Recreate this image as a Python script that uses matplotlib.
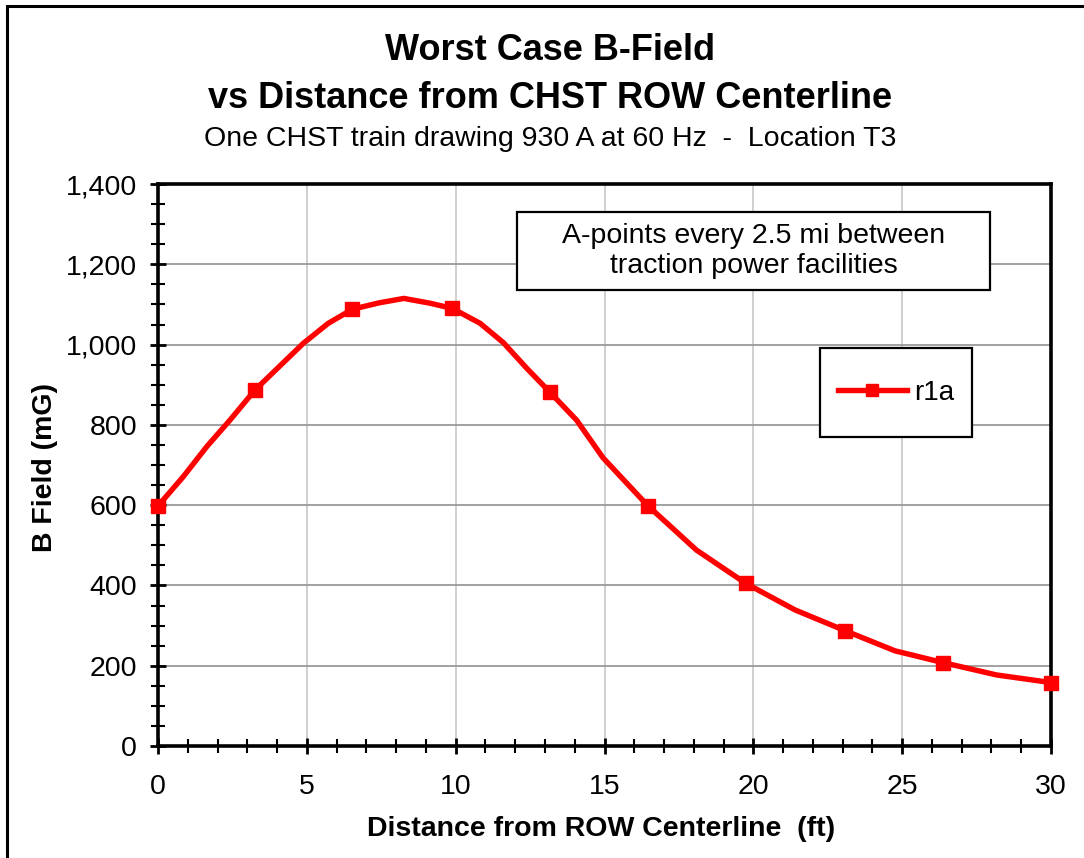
import matplotlib
matplotlib.use("Agg")
import matplotlib.pyplot as plt
from matplotlib.patches import Rectangle
from matplotlib.ticker import MultipleLocator, FuncFormatter

plt.rcParams['font.family'] = ['Liberation Sans', 'DejaVu Sans']

# Data
distance_ft = [0.0, 0.85, 1.64, 2.42, 3.26, 4.07, 4.88, 5.72, 6.53, 7.43, 8.26, 9.14,
               9.89, 10.82, 11.6, 12.4, 13.17, 14.06, 14.95, 16.45, 18.09, 19.75,
               21.4, 23.09, 24.76, 26.36, 28.17, 30.0]
b_field_mG = [598, 671, 746, 812, 887, 945, 1003, 1053, 1088, 1104, 1115, 1103,
              1090, 1053, 1005, 940, 881, 812, 718, 599, 488, 405,
              339, 287, 237, 208, 177, 158]
marker_idx = [0, 4, 8, 12, 16, 19, 21, 23, 25, 27]
series_name = "r1a"

title_lines = ["Worst Case B-Field", "vs Distance from CHST ROW Centerline"]
subtitle = "One CHST train drawing 930 A at 60 Hz  -  Location T3"
x_label = "Distance from ROW Centerline  (ft)"
y_label = "B Field (mG)"
note = "A-points every 2.5 mi between\ntraction power facilities"

W, H = 1084, 858
fig = plt.figure(figsize=(W / 100, H / 100), dpi=100)

# figure frame (left and top visible)
fig.patches.append(Rectangle((7 / W, -0.1), 1.2, 1 - 6 / H + 0.1, transform=fig.transFigure,
                             fill=False, edgecolor='black', linewidth=2.2, zorder=0))

ax = fig.add_axes([158 / W, 1 - 746 / H, (1051 - 158) / W, (746 - 184) / H])
ax.set_xlim(0, 30)
ax.set_ylim(0, 1400)

ax.xaxis.set_major_locator(MultipleLocator(5))
ax.xaxis.set_minor_locator(MultipleLocator(1))
ax.yaxis.set_major_locator(MultipleLocator(200))
ax.yaxis.set_minor_locator(MultipleLocator(50))
ax.yaxis.set_major_formatter(FuncFormatter(lambda v, p: f"{int(v):,}"))

ax.grid(True, which='major', axis='y', color='#9a9a9a', linewidth=1.3)
ax.grid(True, which='major', axis='x', color='#cccccc', linewidth=1.3)
ax.set_axisbelow(True)

for s in ax.spines.values():
    s.set_linewidth(2.6)
    s.set_color('black')

ax.tick_params(which='major', direction='inout', length=12, width=2.0, labelsize=20.5, pad=9)
ax.tick_params(which='minor', direction='inout', length=10, width=1.5)
ax.tick_params(axis='x', which='major', pad=14)

ax.plot(distance_ft, b_field_mG, color='#ff0000', linewidth=3.9, marker='s',
        markersize=10, markevery=marker_idx, label=series_name, clip_on=False, zorder=5)

ax.set_xlabel(x_label, fontsize=20.5, fontweight='bold')
ax.set_ylabel(y_label, fontsize=20.5, fontweight='bold')
ax.xaxis.set_label_coords((601.5 - 158) / (1051 - 158), (746 - 829) / (746 - 184))
ax.yaxis.set_label_coords((45 - 158) / (1051 - 158), (746 - 468) / (746 - 184))
ax.xaxis.label.set_va('center')
ax.yaxis.label.set_va('center')

# titles
cx = 0.5 + 8 / W
fig.text(cx, 1 - 50 / H, title_lines[0], ha='center', va='center', fontsize=26, fontweight='bold')
fig.text(cx, 1 - 99 / H, title_lines[1], ha='center', va='center', fontsize=26, fontweight='bold')
fig.text(cx, 1 - 139 / H, subtitle, ha='center', va='center', fontsize=20.5)

# annotation box
def ax_frac(px, py):
    return ((px - 158) / (1051 - 158), (746 - py) / (746 - 184))

x0, y0 = ax_frac(517, 290)
x1, y1 = ax_frac(990, 212)
ax.add_patch(Rectangle((x0, y0), x1 - x0, y1 - y0, transform=ax.transAxes,
                       facecolor='white', edgecolor='black', linewidth=1.6, zorder=6))
ax.text((x0 + x1) / 2, (y0 + y1) / 2, note, transform=ax.transAxes, ha='center', va='center',
        fontsize=20.5, linespacing=1.2, zorder=7)

# legend box
lx0, ly0 = ax_frac(820, 437)
lx1, ly1 = ax_frac(972, 348)
ax.add_patch(Rectangle((lx0, ly0), lx1 - lx0, ly1 - ly0, transform=ax.transAxes,
                       facecolor='white', edgecolor='black', linewidth=1.6, zorder=6))
leg = ax.legend(loc='center', bbox_to_anchor=((lx0 + lx1) / 2, (ly0 + ly1) / 2),
                frameon=False, fontsize=20, handlelength=2.5, handletextpad=0.25,
                markerscale=0.9)
leg.set_zorder(8)

fig.savefig("out.png", dpi=100)
